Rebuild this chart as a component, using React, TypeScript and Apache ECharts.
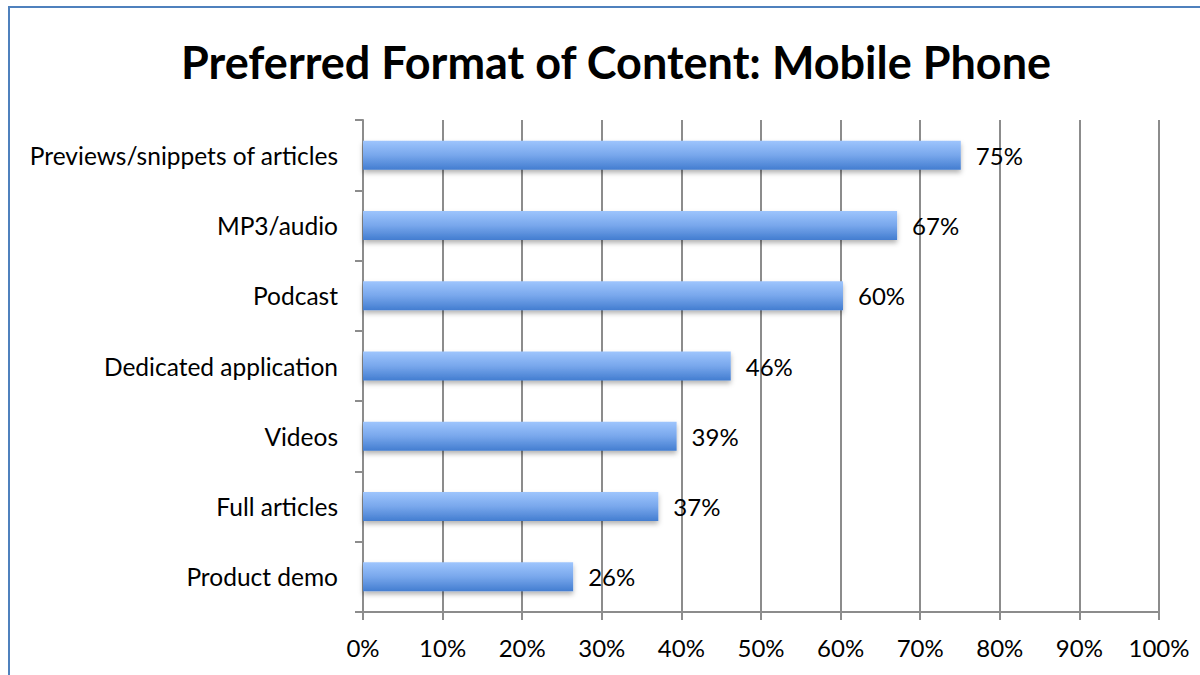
import React, { useEffect, useRef } from "react";
import * as echarts from "echarts";

const categories = [
  "Previews/snippets of articles",
  "MP3/audio",
  "Podcast",
  "Dedicated application",
  "Videos",
  "Full articles",
  "Product demo",
];
const values = [75.1, 67.1, 60.3, 46.2, 39.4, 37.1, 26.4];
const titleText = "Preferred Format of Content: Mobile Phone";

export default function App() {
  const ref = useRef<HTMLDivElement>(null);
  useEffect(() => {
    if (!ref.current) return;
    const chart = echarts.init(ref.current, undefined, { renderer: "svg" });
    const font = "Lato, 'Open Sans', sans-serif";
    chart.setOption({
      animation: false,
      backgroundColor: "#ffffff",
      title: {
        text: titleText,
        left: 176,
        top: 34,
        textStyle: { fontFamily: font, fontSize: 45, fontWeight: "bold", color: "#000" },
      },
      graphic: [
        {
          type: "rect",
          shape: { x: 9, y: 7, width: 1210, height: 690 },
          style: { fill: "none", stroke: "#4F81BD", lineWidth: 2 },
          silent: true,
        },
      ],
      grid: { left: 363, right: 41, top: 120, bottom: 63 },
      xAxis: {
        type: "value",
        min: 0,
        max: 100,
        interval: 10,
        axisLine: { show: true, lineStyle: { color: "#8c8c8c", width: 2 } },
        axisTick: { show: true, length: 8, lineStyle: { color: "#8c8c8c", width: 2 } },
        splitLine: { show: true, lineStyle: { color: "#8c8c8c", width: 2 } },
        axisLabel: {
          formatter: "{value}%",
          margin: 23,
          fontFamily: font,
          fontSize: 24,
          color: "#000",
        },
      },
      yAxis: {
        type: "category",
        data: categories,
        inverse: true,
        axisLine: { show: true, lineStyle: { color: "#8c8c8c", width: 2 } },
        axisTick: { show: true, length: 8, lineStyle: { color: "#8c8c8c", width: 2 } },
        axisLabel: { margin: 25, fontFamily: font, fontSize: 24.5, color: "#000" },
      },
      series: [
        {
          type: "bar",
          data: values,
          barWidth: 29,
          itemStyle: {
            color: new echarts.graphic.LinearGradient(0, 0, 0, 1, [
              { offset: 0, color: "#9EC5FD" },
              { offset: 0.5, color: "#78A7EC" },
              { offset: 1, color: "#437DD0" },
            ]),
            shadowColor: "rgba(0,0,0,0.3)",
            shadowBlur: 5,
            shadowOffsetY: 3,
          },
          label: {
            show: true,
            position: "right",
            distance: 15,
            formatter: (p: any) => Math.round(p.value) + "%",
            fontFamily: font,
            fontSize: 24,
            color: "#000",
          },
        },
      ],
    });
    return () => chart.dispose();
  }, []);
  return (
    <div
      ref={ref}
      style={{ position: "absolute", left: 0, top: 0, width: 1200, height: 675 }}
    />
  );
}
